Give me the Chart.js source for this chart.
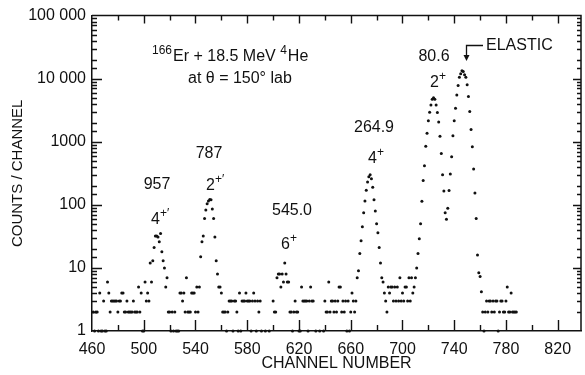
<!DOCTYPE html>
<html>
<head>
<meta charset="utf-8">
<script src="https://cdn.jsdelivr.net/npm/chart.js@4.4.1/dist/chart.umd.min.js"></script>
<style>
  html, body { margin: 0; padding: 0; background: #fff; }
  #chart { display: block; }
</style>
</head>
<body>
<canvas id="chart" width="585" height="375"></canvas>
<script>
// counts per channel, first entry is channel 461 (null = empty channel)
const firstChannel = 461;
const counts = [
  2, 1, 2, 2, 1, 4, 1, 1, 3, 1,                 // 461
  1, 6, 4, 2, 3, 3, 3, 3, 3, 2,                 // 471
  3, 3, 4, 4, 2, 2, 3, 2, 2, 2,                 // 481
  2, 3, 2, 2, 2, 5, 2, 4, 1, 1,                 // 491
  6, 3, 4, 3, 12, 6, 13, 21, 32, 32,            // 501
  31, 26, 35, 18, 13, 10, 5, 7, 2, 2,           // 511
  1, 2, 1, 2, 1, 1, 1, 4, 4, 3,                 // 521
  4, 2, 7, 2, 2, 2, 4, 4, 4, 2,                 // 531
  5, 2, 5, 15, 26, 32, 61, 83, 104, 115,        // 541
  122, 120, 86, 61, 31, 13, 8, 5, 5, 4,         // 551
  2, 2, 2, 1, 2, 3, 3, 3, 1, 3,                 // 561
  3, 2, 1, 4, 1, 3, 3, 3, 4, 3,                 // 571
  3, 3, 1, 3, 4, 3, 1, 3, 2, 3,                 // 581
  1, null, null, 1, null, null, 1, null, null, 3, // 591
  2, 2, 7, 8, 8, 5, 8, 6, 12, 8,                // 601
  6, 6, 2, 2, 1, 2, 3, 2, 2, 1,                 // 611
  1, 5, 3, 3, 3, 3, 1, 3, 5, 3,                 // 621
  3, null, 1, null, null, 1, null, null, 1, 3,  // 631
  2, 2, 6, 2, 3, 3, 2, 3, 2, 3,                 // 641
  5, 5, 2, 3, 2, 3, 1, 3, 1, 2,                 // 651
  4, 3, 2, 3, 7, 9, 17, 27, 45, 75,             // 661
  115, 170, 230, 280, 300, 260, 190, 120, 80, 50, // 671
  36, 21, 12, 7, 6, 4, 3, 2, 5, 4,              // 681
  5, 5, 3, 5, 3, 5, 3, 7, 3, 4,                 // 691
  3, 5, 5, 3, 7, 3, 7, 4, 5, 7,                 // 701
  10, 17, 29, 50, 114, 243, 415, 850, 1370, 2150, // 711
  2940, 3820, 4700, 5000, 4700, 3820, 2900, 2050, 1220, 650, // 721
  300, 165, 75, 59, 88, 169, 307, 580, 1240, 2150, // 731
  3390, 5500, 7800, 10500, 12000, 13400, 13000, 11500, 10500, 8000, // 741
  5200, 3030, 1560, 830, 370, 154, 61, 16, 8.4, 7.3, // 751
  4.2, 2, 1, 2, 3, 2, 3, 3, 2, 3,               // 761
  2, 3, 3, 1, 2, 3, 3, 2, 2, 3,                 // 771
  5, 2, 2, 4, 2, 2, 2, 2                        // 781
];

const xTickValues = [460, 480, 500, 520, 540, 560, 580, 600, 620, 640, 660, 680, 700, 720, 740, 760, 780, 800, 820];
const xTickLabels = [460, 500, 540, 580, 620, 660, 700, 740, 780, 820];
const yTickLabels = { 1: "1", 10: "10", 100: "100", 1000: "1000", 10000: "10 000", 100000: "100 000" };

const points = [];
counts.forEach((c, i) => {
  if (c !== null) points.push({ x: firstChannel + i, y: c });
});

const FONT = "'Liberation Sans', Arial, sans-serif";
const INK = "#111";

function isDecade(v) {
  const l = Math.log10(v);
  return Math.abs(l - Math.round(l)) < 1e-9;
}

// inward tick marks + top/right frame
const frameTicks = {
  id: "frameTicks",
  afterDraw(chart) {
    const c = chart.ctx;
    const a = chart.chartArea;
    const xs = chart.scales.x, ys = chart.scales.y;
    c.save();
    c.strokeStyle = INK;
    c.lineWidth = 1.5;
    c.beginPath();
    c.moveTo(a.left, a.top);
    c.lineTo(a.right, a.top);
    c.lineTo(a.right, a.bottom);
    c.stroke();

    c.lineWidth = 1.4;
    c.beginPath();
    ys.ticks.forEach((t) => {
      const v = t.value;
      if (v <= 1 || v >= 100000) return;
      const py = Math.round(ys.getPixelForValue(v)) + 0.5;
      const major = isDecade(v);
      c.moveTo(a.left, py);
      c.lineTo(a.left + (major ? 10 : 5), py);
      c.moveTo(a.right, py);
      c.lineTo(a.right - (major ? 8 : 4), py);
    });
    xs.ticks.forEach((t) => {
      const v = t.value;
      if (v <= 460 || v > 820) return;
      const px = Math.round(xs.getPixelForValue(v)) + 0.5;
      const long = (v - 460) % 40 === 0;
      c.moveTo(px, a.bottom);
      c.lineTo(px, a.bottom - (long ? 11 : 6));
      c.moveTo(px, a.top);
      c.lineTo(px, a.top + (long ? 8 : 5));
    });
    c.stroke();
    c.restore();
  }
};

// text with superscripts: parts = [[text, isSup], ...]
function drawRuns(c, left, baseline, parts) {
  let cx = left;
  parts.forEach(([txt, sup]) => {
    c.font = (sup ? "12px " : "16px ") + FONT;
    c.fillText(txt, cx, sup ? baseline - 7 : baseline);
    cx += c.measureText(txt).width + (sup ? 1 : 0);
  });
}

const notes = {
  id: "notes",
  afterDraw(chart) {
    const c = chart.ctx;
    c.save();
    c.fillStyle = INK;
    c.textBaseline = "alphabetic";
    c.textAlign = "left";

    drawRuns(c, 152, 61, [["166", true], ["Er + 18.5 MeV ", false], ["4", true], ["He", false]]);
    drawRuns(c, 188, 83, [["at \u03B8 = 150\u00B0 lab", false]]);

    c.font = "16px " + FONT;
    c.textAlign = "center";
    c.textBaseline = "middle";
    c.fillText("957", 157, 185);
    c.fillText("787", 209, 154);
    c.fillText("545.0", 292, 211);
    c.fillText("264.9", 374, 128);
    c.fillText("80.6", 434, 57);

    c.textAlign = "left";
    c.textBaseline = "alphabetic";
    drawRuns(c, 151, 224, [["4", false], ["+\u2032", true]]);
    drawRuns(c, 206, 190, [["2", false], ["+\u2032", true]]);
    drawRuns(c, 281, 249, [["6", false], ["+", true]]);
    drawRuns(c, 368, 163, [["4", false], ["+", true]]);
    drawRuns(c, 430, 87, [["2", false], ["+", true]]);
    drawRuns(c, 486, 50, [["ELASTIC", false]]);

    // arrow to the elastic peak
    c.strokeStyle = INK;
    c.lineWidth = 1.3;
    c.beginPath();
    c.moveTo(483, 45.5);
    c.lineTo(466.5, 45.5);
    c.lineTo(466.5, 56);
    c.stroke();
    c.beginPath();
    c.moveTo(463.5, 55);
    c.lineTo(469.5, 55);
    c.lineTo(466.5, 61);
    c.closePath();
    c.fill();
    c.restore();
  }
};

const canvas = document.getElementById("chart");

new Chart(canvas, {
  type: "scatter",
  data: {
    datasets: [
      {
        data: points,
        pointRadius: 1.5,
        pointBackgroundColor: INK,
        pointBorderWidth: 0,
        showLine: false,
        clip: false
      }
    ]
  },
  options: {
    responsive: false,
    animation: false,
    events: [],
    layout: { padding: { top: 12, right: 2, left: 0, bottom: 0 } },
    plugins: { legend: { display: false }, tooltip: { enabled: false } },
    scales: {
      x: {
        type: "linear",
        min: 460,
        max: 838,
        afterBuildTicks: (s) => { s.ticks = xTickValues.map((v) => ({ value: v })); },
        afterFit: (s) => { s.height = 44; },
        grid: { display: false, drawTicks: false },
        border: { display: true, color: INK, width: 1.5 },
        ticks: {
          autoSkip: false,
          maxRotation: 0,
          padding: 9,
          color: INK,
          font: { family: FONT, size: 16 },
          callback: (v) => (xTickLabels.includes(v) ? String(v) : "")
        },
        title: {
          display: true,
          text: "CHANNEL NUMBER",
          color: INK,
          font: { family: FONT, size: 16 },
          padding: { top: 0, bottom: 2 }
        }
      },
      y: {
        type: "logarithmic",
        min: 1,
        max: 100000,
        afterFit: (s) => { s.width = 92; },
        grid: { display: false, drawTicks: false },
        border: { display: true, color: INK, width: 1.5 },
        ticks: {
          autoSkip: false,
          padding: 6,
          color: INK,
          font: { family: FONT, size: 16 },
          callback: (v) => yTickLabels[v] || ""
        },
        title: {
          display: true,
          text: "COUNTS / CHANNEL",
          color: INK,
          font: { family: FONT, size: 15 },
          padding: { top: 9, bottom: 0 }
        }
      }
    }
  },
  plugins: [frameTicks, notes]
});
</script>
</body>
</html>
